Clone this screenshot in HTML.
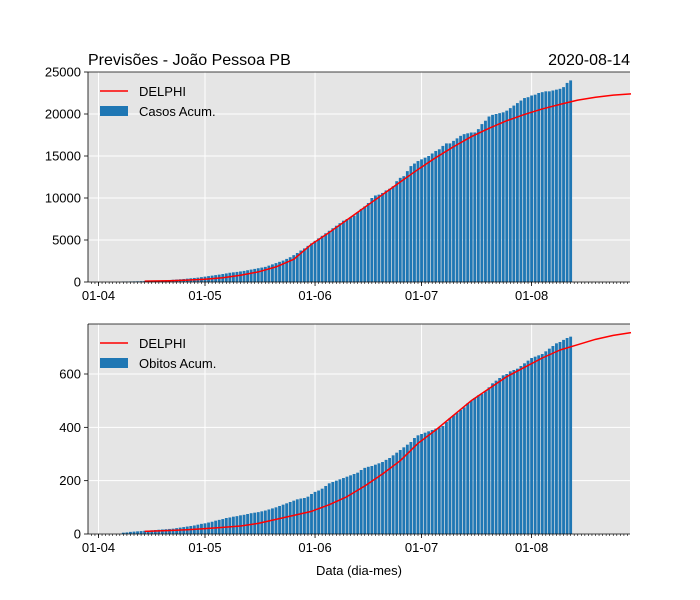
<!DOCTYPE html>
<html><head><meta charset="utf-8"><style>
body{margin:0;background:#fff;}
svg{display:block;font-family:"Liberation Sans","DejaVu Sans",sans-serif;}
</style></head><body>
<svg id="chart" width="700" height="600"></svg>
<script>
const caseCounts=[40,50,60,70,80,95,110,120,140,150,
170,190,210,240,270,300,330,360,400,440,480,
520,580,640,700,760,820,880,950,1020,1100,
1150,1200,1260,1320,1400,1480,1560,1640,1720,1800,
1950,2100,2250,2400,2550,2750,2950,3200,3450,3750,4000,
4300,4600,4900,5200,5500,5800,6100,6400,6700,7000,
7300,7500,7700,7900,8300,8700,9000,9400,10000,10300,
10400,10600,10900,11100,11400,12000,12400,12600,13200,13800,
14100,14400,14600,14800,15000,15300,15600,15800,16200,16500,
16500,16800,17100,17400,17600,17700,17800,17800,18200,18800,
19200,19700,19900,20000,20100,20200,20400,20700,21000,21300,21600,
21900,22000,22200,22300,22500,22600,22700,22700,22800,22900,
23000,23200,23700,24000];
const deathCounts=[5,6,8,9,10,11,12,13,14,15,
16,17,18,19,20,22,24,26,28,30,32,
35,38,40,43,46,50,53,56,60,62,
65,67,70,72,75,78,80,82,85,88,
92,96,100,105,110,115,120,125,130,133,135,
140,150,158,163,170,180,190,195,200,205,
210,215,220,225,230,240,248,252,255,260,
265,270,278,285,295,305,315,325,335,345,
360,370,375,380,385,390,395,400,405,420,
435,445,455,465,475,490,500,510,520,525,
535,550,565,575,585,595,600,610,615,620,630,
640,650,660,665,670,675,685,695,705,715,
720,728,735,740];
const barStartDay=7; // days after Apr 1
const delphiDays=[13,20,25,30,35,40,45,50,55,60,65,70,75,80,85,90,95,100,105,110,115,120,125,130,135,140,145,150];
const delphiCases=[100,150,220,330,500,800,1200,1800,2700,4500,5900,7400,8900,10400,11900,13400,14800,16100,17300,18300,19200,19950,20600,21150,21650,22000,22250,22400];
const delphiDeaths=[10,13,16,20,25,30,40,55,70,85,110,140,180,225,275,340,390,445,500,545,590,625,660,690,710,730,745,755];
const xTickLabels=["01-04","01-05","01-06","01-07","01-08"];
const xTickDays=[0,30,61,91,122];
const caseTicks=[0,5000,10000,15000,20000,25000];
const deathTicks=[0,200,400,600];

const NS="http://www.w3.org/2000/svg";
const svg=document.getElementById('chart');
function el(tag,attrs,parent,text){const e=document.createElementNS(NS,tag);for(const k in attrs)e.setAttribute(k,attrs[k]);if(text!==undefined)e.textContent=text;(parent||svg).appendChild(e);return e;}
const L=88,R=630,DAY0=98.5,PXD=3.55;
const xs=d=>DAY0+d*PXD;

function panel(top,bottom,ymax,ticks,bars,curve,name,label){
  const ys=v=>bottom-(v/ymax)*(bottom-top);
  const g=el('g',{});
  
  el('rect',{x:L,y:top,width:R-L,height:bottom-top,fill:'#e5e5e5'},g);
  xTickDays.forEach(d=>{const l=el('line',{x1:xs(d),x2:xs(d),y1:top,y2:bottom,stroke:'#fff','stroke-width':1},g);});
  ticks.forEach(t=>{const l=el('line',{x1:L,x2:R,y1:ys(t),y2:ys(t),stroke:'#fff','stroke-width':1},g);});
  bars.forEach((v,i)=>{const d=barStartDay+i;const r=el('rect',{x:xs(d)-0.4*PXD,y:ys(v),width:0.8*PXD,height:bottom-ys(v),fill:'#1f77b4'},g);});
  const p=el('polyline',{points:delphiDays.map((d,i)=>xs(d)+','+ys(curve[i])).join(' '),fill:'none',stroke:'#ff0000','stroke-width':1.5,'stroke-linejoin':'round'},g);
  
  el('line',{x1:L,x2:L,y1:top,y2:bottom,stroke:'#000','stroke-width':0.8},g);
  el('line',{x1:L,x2:R,y1:bottom,y2:bottom,stroke:'#000','stroke-width':0.8},g);
  el('line',{x1:L,x2:R,y1:top,y2:top,stroke:'#000','stroke-width':0.8},g);
  for(let d=-3;d<=150;d++){const x=xs(d);if(x<L||x>R)continue;el('line',{x1:x,x2:x,y1:bottom,y2:bottom+2,stroke:'#000','stroke-width':0.6},g);}
  xTickDays.forEach((d,i)=>{el('line',{x1:xs(d),x2:xs(d),y1:bottom,y2:bottom+4,stroke:'#000','stroke-width':0.8},g);const t=el('text',{x:xs(d),y:bottom+18,'font-size':13,'text-anchor':'middle'},g,xTickLabels[i]);});
  ticks.forEach(tv=>{el('line',{x1:L-4,x2:L,y1:ys(tv),y2:ys(tv),stroke:'#000','stroke-width':0.8},g);const t=el('text',{x:L-7,y:ys(tv)+4.5,'font-size':13,'text-anchor':'end'},g,String(tv));});
  const lg=el('g',{},g);
  el('line',{x1:100,x2:128,y1:top+19,y2:top+19,stroke:'#ff0000','stroke-width':1.5},lg);
  el('text',{x:139,y:top+24,'font-size':13},lg,'DELPHI');
  el('rect',{x:100,y:top+34,width:28,height:10,fill:'#1f77b4'},lg);
  el('text',{x:139,y:top+44,'font-size':13},lg,label);
}
panel(72,282,25000,caseTicks,caseCounts,delphiCases,'cases','Casos Acum.');
panel(324,534,787.5,deathTicks,deathCounts,delphiDeaths,'deaths','Obitos Acum.');
let t=el('text',{x:88,y:65,'font-size':16},svg,'Previsões - João Pessoa PB');
t=el('text',{x:630,y:65,'font-size':16,'text-anchor':'end'},svg,'2020-08-14');
t=el('text',{x:359,y:575,'font-size':13,'text-anchor':'middle'},svg,'Data (dia-mes)');
</script>
</body></html>
